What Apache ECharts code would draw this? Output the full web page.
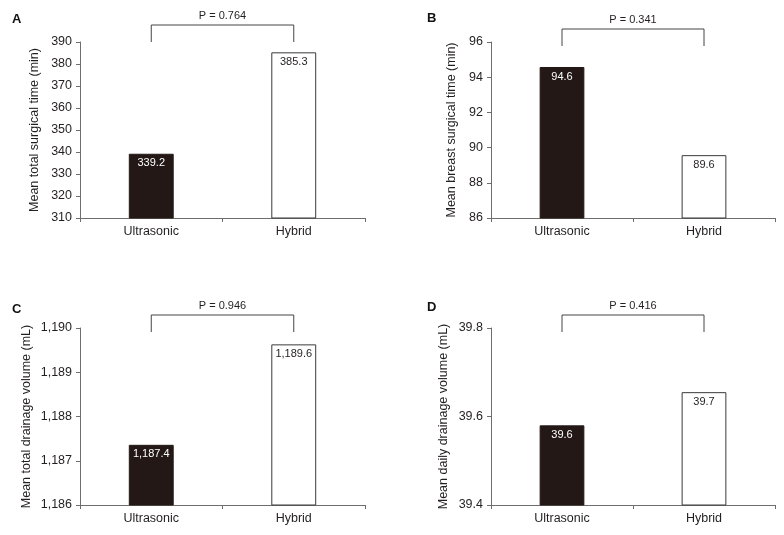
<!DOCTYPE html>
<html>
<head>
<meta charset="utf-8">
<script src="https://cdn.jsdelivr.net/npm/echarts@6/dist/echarts.min.js"></script>
<style>html,body{margin:0;padding:0;background:#fff}#c{width:784px;height:535px}</style>
</head>
<body>
<div id="c"></div>
<script>
// ---- data ----
const categories = ['Ultrasonic', 'Hybrid'];
const panelLetters = ['A', 'B', 'C', 'D'];
const axisTitles = [
  'Mean total surgical time (min)',
  'Mean breast surgical time (min)',
  'Mean total drainage volume (mL)',
  'Mean daily drainage volume (mL)'
];
const valuesA = [339.2, 385.3];
const valuesB = [94.58, 89.57];
const valuesC = [1187.36, 1189.63];
const valuesD = [39.58, 39.655];
const pValues = ['P = 0.764', 'P = 0.341', 'P = 0.946', 'P = 0.416'];
const yMins = [310, 86, 1186, 39.4];
const yMaxs = [390, 96, 1190, 39.8];
const yIntervals = [10, 2, 1, 0.2];
const yLabelDecimals = [0, 0, 0, 1];

// ---- layout / style ----
const allValues = [valuesA, valuesB, valuesC, valuesD];
const grids = [
  {left: 80, right: 419, top: 42, bottom: 317},
  {left: 491, right: 9, top: 42, bottom: 317},
  {left: 80, right: 419, top: 328, bottom: 30},
  {left: 491, right: 9, top: 328, bottom: 30}
];
const nameGaps = [39, 33, 47, 41];
const letterPos = [[12, 13], [427, 12], [12, 303], [427, 301]];
const bracketBottomOffset = [0, 4, 4, 4];
const bracketHeight = [17, 17, 17, 17];
const FONT = '"Liberation Sans", Arial, Helvetica, sans-serif';
const TEXT = '#231f20';
const AXIS = '#6e6e6e';
const DARK = '#231815';

function fmt(v, d) {
  return v.toLocaleString('en-US', {minimumFractionDigits: d, maximumFractionDigits: d});
}

const xAxis = [], yAxis = [], series = [], graphic = [];
for (let i = 0; i < 4; i++) {
  xAxis.push({
    type: 'category', gridIndex: i, data: categories,
    axisLine: {lineStyle: {color: AXIS, width: 1}},
    axisTick: {show: true, length: 4, lineStyle: {color: AXIS}},
    axisLabel: {color: TEXT, fontFamily: FONT, fontSize: 12.5, margin: 7}
  });
  const dec = yLabelDecimals[i];
  yAxis.push({
    type: 'value', gridIndex: i, min: yMins[i], max: yMaxs[i], interval: yIntervals[i],
    name: axisTitles[i], nameLocation: 'middle', nameGap: nameGaps[i],
    nameTextStyle: {color: TEXT, fontFamily: FONT, fontSize: 12.5},
    axisLine: {show: true, lineStyle: {color: AXIS, width: 1}},
    axisTick: {show: true, length: 4, lineStyle: {color: AXIS}},
    splitLine: {show: false},
    axisLabel: {color: TEXT, fontFamily: FONT, fontSize: 12.5, margin: 8,
      formatter: v => fmt(v, dec)}
  });
  series.push({
    type: 'bar', xAxisIndex: i, yAxisIndex: i, barWidth: '31.5%',
    data: allValues[i].map((v, k) => ({
      value: v,
      itemStyle: k === 0 ? {color: DARK, borderColor: DARK, borderWidth: 1}
                         : {color: '#ffffff', borderColor: '#3a3a3a', borderWidth: 1},
      label: {color: k === 0 ? '#ffffff' : TEXT}
    })),
    label: {show: true, position: 'insideTop', distance: 4, fontFamily: FONT, fontSize: 11,
      formatter: p => fmt(p.value, 1)},
    silent: true, animation: false
  });
  const idx = i;
  series.push({
    type: 'custom', xAxisIndex: i, yAxisIndex: i, clip: false, silent: true, animation: false,
    data: [[0, 1]],
    renderItem: function (params, api) {
      const p0 = api.coord([0, yMaxs[idx]]);
      const p1 = api.coord([1, yMaxs[idx]]);
      const yb = p0[1] + bracketBottomOffset[idx];
      const yt = yb - bracketHeight[idx];
      return {
        type: 'group',
        children: [
          {type: 'polyline', shape: {points: [[p0[0], yb], [p0[0], yt], [p1[0], yt], [p1[0], yb]]},
           style: {stroke: '#444', lineWidth: 1, fill: null}},
          {type: 'text', x: (p0[0] + p1[0]) / 2, y: yt - 9,
           style: {text: pValues[idx], fill: TEXT, font: '11px ' + FONT, align: 'center', verticalAlign: 'middle'}}
        ]
      };
    }
  });
  graphic.push({
    type: 'text', left: letterPos[i][0], top: letterPos[i][1],
    style: {text: panelLetters[i], fill: '#111', font: 'bold 13px ' + FONT}
  });
}

const chart = echarts.init(document.getElementById('c'), null, {renderer: 'canvas'});
chart.setOption({
  animation: false,
  backgroundColor: '#ffffff',
  grid: grids,
  xAxis: xAxis,
  yAxis: yAxis,
  series: series,
  graphic: graphic
});
</script>
</body>
</html>
